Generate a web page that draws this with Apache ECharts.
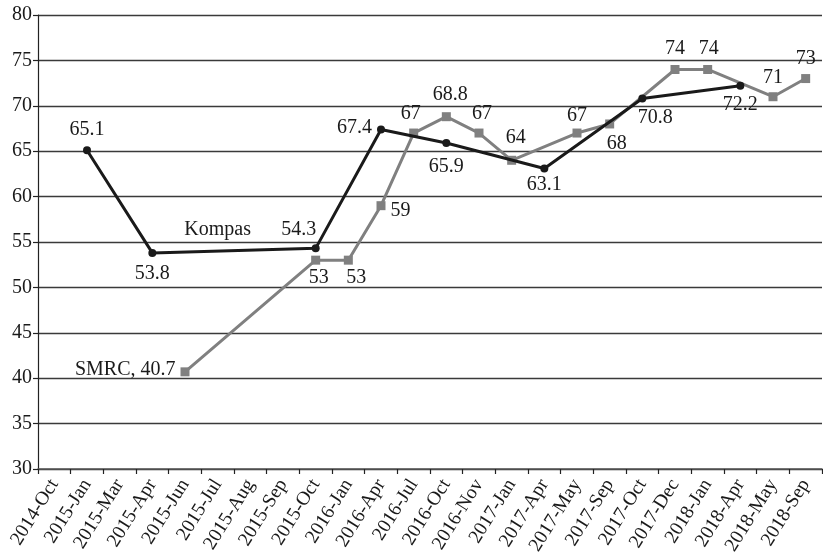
<!DOCTYPE html>
<html>
<head>
<meta charset="utf-8">
<script src="https://cdn.jsdelivr.net/npm/echarts@6/dist/echarts.min.js"></script>
<style>
  html, body { margin: 0; padding: 0; background: #fff; }
  #chart { width: 823px; height: 558px; }
</style>
</head>
<body>
<div id="chart"></div>
<script>
// Survey months on the category axis
var months = ['2014-Oct', '2015-Jan', '2015-Mar', '2015-Apr', '2015-Jun', '2015-Jul',
  '2015-Aug', '2015-Sep', '2015-Oct', '2016-Jan', '2016-Apr', '2016-Jul', '2016-Oct',
  '2016-Nov', '2017-Jan', '2017-Apr', '2017-May', '2017-Sep', '2017-Oct', '2017-Dec',
  '2018-Jan', '2018-Apr', '2018-May', '2018-Sep'];

// Kompas poll results (null = no poll that month)
var kompasValues = [null, 65.1, null, 53.8, null, null, null, null, 54.3, null, 67.4, null,
  65.9, null, null, 63.1, null, null, 70.8, null, null, 72.2, null, null];

// SMRC poll results
var smrcValues = [null, null, null, null, 40.7, null, null, null, 53, 53, 59, 67,
  68.8, 67, 64, null, 67, 68, null, 74, 74, null, 71, 73];

// Value axis ticks
var yTicks = [30, 35, 40, 45, 50, 55, 60, 65, 70, 75, 80];

// Where each value label sits relative to its point: [position, dx, dy]
var kompasLabelPlace = {
  1: ['top', 0, -2], 3: ['bottom', 0, 2], 8: ['top', -17, 0], 10: ['left', 0, -2],
  12: ['bottom', 0, 5], 15: ['bottom', 0, -3], 18: ['bottom', 13, 0], 21: ['bottom', 0, 0]
};
var smrcLabelPlace = {
  4: ['left', 0, -2], 8: ['bottom', 3, -2], 9: ['bottom', 8, -2], 10: ['right', 0, 5],
  11: ['top', -3, 0], 12: ['top', 4, -2], 13: ['top', 3, 0], 14: ['top', 4, -3],
  16: ['top', 0, 2], 17: ['bottom', 7, 0], 19: ['top', 0, -1], 20: ['top', 1, -1],
  22: ['top', 0, 1], 23: ['top', 0, 0]
};

var FONT = 'Liberation Serif';
var TEXT = '#1a1a1a';

function buildData(values, place, firstFmt) {
  return values.map(function (v, i) {
    if (v === null) return null;
    var p = place[i] || ['top', 0, 0];
    var item = {
      value: v,
      label: { show: true, position: p[0], offset: [p[1], p[2]] }
    };
    if (firstFmt && i === firstFmt.index) item.label.formatter = firstFmt.text;
    return item;
  });
}

var labelStyle = {
  fontFamily: FONT, fontSize: 20, color: TEXT, distance: 5
};

var chart = echarts.init(document.getElementById('chart'), null, { renderer: 'canvas' });

chart.setOption({
  animation: false,
  backgroundColor: '#fff',
  grid: { left: 38, right: 1, top: 15, bottom: 89, containLabel: false, outerBoundsMode: 'none' },
  xAxis: {
    type: 'category',
    data: months,
    boundaryGap: true,
    axisLine: { lineStyle: { color: '#555', width: 1.5 } },
    axisTick: { show: true, length: 5, lineStyle: { color: '#222', width: 1.2 } },
    axisLabel: {
      interval: 0, rotate: 58, margin: 12,
      fontFamily: FONT, fontSize: 19.5, color: TEXT
    },
    splitLine: { show: false }
  },
  yAxis: {
    type: 'value',
    min: yTicks[0], max: yTicks[yTicks.length - 1], interval: yTicks[1] - yTicks[0],
    axisLine: { show: true, lineStyle: { color: '#222', width: 1.2 } },
    axisTick: { show: true, length: 5, lineStyle: { color: '#222', width: 1.2 } },
    axisLabel: { margin: 6, fontFamily: FONT, fontSize: 20, color: TEXT },
    splitLine: { show: true, lineStyle: { color: '#3a3a3a', width: 1.3 } }
  },
  series: [
    {
      name: 'SMRC',
      type: 'line',
      connectNulls: true,
      data: buildData(smrcValues, smrcLabelPlace, { index: 4, text: 'SMRC, {c}' }),
      symbol: 'rect', symbolSize: 9,
      lineStyle: { color: '#808080', width: 3 },
      itemStyle: { color: '#808080' },
      label: labelStyle,
      z: 2
    },
    {
      name: 'Kompas',
      type: 'line',
      connectNulls: true,
      data: buildData(kompasValues, kompasLabelPlace, null),
      symbol: 'circle', symbolSize: 8,
      lineStyle: { color: '#1a1a1a', width: 3 },
      itemStyle: { color: '#1a1a1a' },
      label: labelStyle,
      markPoint: {
        symbol: 'circle', symbolSize: 0,
        data: [{ coord: ['2015-Jul', 56.4], value: 'Kompas' }],
        label: {
          show: true, position: 'inside', formatter: 'Kompas',
          fontFamily: FONT, fontSize: 20, color: TEXT
        }
      },
      z: 3
    }
  ]
});
</script>
</body>
</html>
